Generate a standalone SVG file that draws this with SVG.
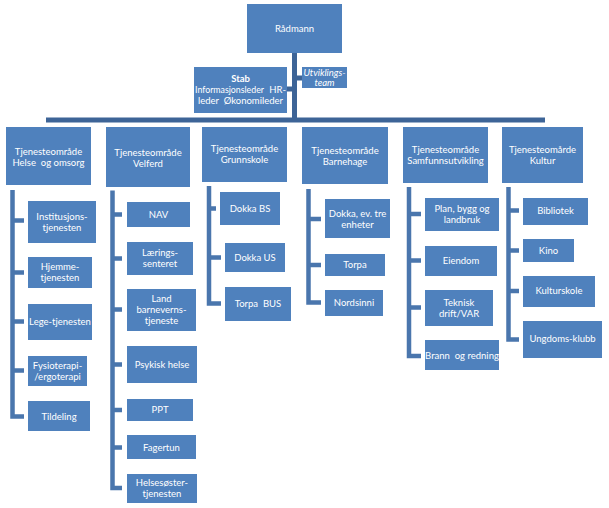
<svg xmlns="http://www.w3.org/2000/svg" width="609" height="508" viewBox="0 0 609 508">
<style>
.b{fill:#4f81bd}
.t{fill:#ffffff;font-family:Lato,"Open Sans","Liberation Sans",sans-serif;font-size:9.5px;text-anchor:middle;white-space:pre}
.c{fill:none;stroke:#4a76ad;stroke-width:4.5}
.m{fill:none;stroke:#3d6497;stroke-width:5}
</style>
<rect width="609" height="508" fill="#ffffff"/>
<g id="connectors">
<path class="m" d="M294.5,53 V120 M46,120 H545"/>
<path class="m" stroke-width="3" d="M297,78 H302 M287,89 H292"/>
<path class="c" d="M12.5,190 V416.5 H24 M12.5,220.5 H24 M12.5,272.5 H24 M12.5,321.5 H24 M12.5,370.5 H24"/>
<path class="c" d="M112.5,190.5 V488 H122 M112.5,214.5 H122 M112.5,258.5 H122 M112.5,309.5 H122 M112.5,364.5 H122 M112.5,410 H122 M112.5,447.5 H122"/>
<path class="c" d="M209,186 V303.5 H221 M209,208.5 H216 M209,257.5 H221"/>
<path class="c" d="M308.5,189 V302.5 H321 M308.5,219 H321 M308.5,265 H321"/>
<path class="c" d="M409,187 V356 H421 M409,214 H421 M409,260.5 H421 M409,307.5 H421"/>
<path class="c" d="M508.5,187 V339.5 H519 M508.5,210.5 H519 M508.5,250.5 H519 M508.5,291 H519"/>
</g>
<g id="radmann"><rect class="b" x="247" y="4" width="95" height="49"/><text class="t" x="294.5" y="32">Rådmann</text></g>
<g id="stab"><rect class="b" x="194" y="67" width="93" height="46"/>
<text class="t" x="240.5" y="82" font-weight="bold">Stab</text>
<text class="t" x="195" y="93" style="text-anchor:start" textLength="69" lengthAdjust="spacingAndGlyphs">Informasjonsleder</text>
<text class="t" x="286" y="93" style="text-anchor:end">HR-</text>
<text class="t" x="240.5" y="104">leder  Økonomileder</text></g>
<g id="utvikling"><rect class="b" x="302" y="67" width="45" height="21"/>
<text class="t" x="324.5" y="76" font-style="italic">Utviklings-</text>
<text class="t" x="324.5" y="86" font-style="italic">team</text></g>

<g id="helse"><rect class="b" x="6" y="127" width="85" height="58"/><text class="t" x="48.5" y="155">Tjenesteområde</text><text class="t" x="48.5" y="166">Helse  og omsorg</text></g>
<g id="velferd"><rect class="b" x="106" y="127" width="84" height="60"/><text class="t" x="148" y="156">Tjenesteområde</text><text class="t" x="148" y="167">Velferd</text></g>
<g id="grunnskole"><rect class="b" x="202" y="127" width="85" height="55"/><text class="t" x="244.5" y="152">Tjenesteområde</text><text class="t" x="244.5" y="163">Grunnskole</text></g>
<g id="barnehage"><rect class="b" x="302" y="127" width="86" height="57"/><text class="t" x="345" y="154">Tjenesteområde</text><text class="t" x="345" y="165">Barnehage</text></g>
<g id="samfunn"><rect class="b" x="403" y="127" width="85" height="56"/><text class="t" x="445.5" y="153">Tjenesteområde</text><text class="t" x="445.5" y="164">Samfunnsutvikling</text></g>
<g id="kultur"><rect class="b" x="502" y="127" width="81" height="56"/><text class="t" x="542.5" y="153">Tjenesteomårde</text><text class="t" x="542.5" y="164">Kultur</text></g>

<g id="institusjon"><rect class="b" x="28" y="201" width="68" height="42"/><text class="t" x="62" y="220">Institusjons-</text><text class="t" x="62" y="231">tjenesten</text></g>
<g id="hjemme"><rect class="b" x="28" y="257" width="64" height="31"/><text class="t" x="60" y="270">Hjemme-</text><text class="t" x="60" y="281">tjenesten</text></g>
<g id="lege"><rect class="b" x="28" y="304" width="64" height="36"/><text class="t" x="60" y="325">Lege-tjenesten</text></g>
<g id="fysio"><rect class="b" x="28" y="356" width="59" height="30"/><text class="t" x="57.5" y="369">Fysioterapi-</text><text class="t" x="57.5" y="380">/ergoterapi</text></g>
<g id="tildeling"><rect class="b" x="28" y="401" width="62" height="30"/><text class="t" x="59" y="420">Tildeling</text></g>

<g id="nav"><rect class="b" x="127" y="202" width="63" height="25"/><text class="t" x="158.5" y="218">NAV</text></g>
<g id="laering"><rect class="b" x="127" y="242" width="66" height="33"/><text class="t" x="160" y="256">Lærings-</text><text class="t" x="160" y="267">senteret</text></g>
<g id="barnevern"><rect class="b" x="127" y="289" width="69" height="42"/><text class="t" x="161.5" y="302">Land</text><text class="t" x="161.5" y="313">barneverns-</text><text class="t" x="161.5" y="324">tjeneste</text></g>
<g id="psykisk"><rect class="b" x="127" y="346" width="70" height="37"/><text class="t" x="162" y="368">Psykisk helse</text></g>
<g id="ppt"><rect class="b" x="127" y="399" width="66" height="22"/><text class="t" x="160" y="413">PPT</text></g>
<g id="fagertun"><rect class="b" x="127" y="435" width="69" height="24"/><text class="t" x="161.5" y="451">Fagertun</text></g>
<g id="helsesoster"><rect class="b" x="127" y="474" width="70" height="29"/><text class="t" x="162" y="486">Helsesøster-</text><text class="t" x="162" y="497">tjenesten</text></g>

<g id="dokkabs"><rect class="b" x="220" y="192" width="60" height="33"/><text class="t" x="250" y="212">Dokka BS</text></g>
<g id="dokkaus"><rect class="b" x="225" y="243" width="60" height="29"/><text class="t" x="255" y="261">Dokka US</text></g>
<g id="torpabus"><rect class="b" x="225" y="287" width="66" height="34"/><text class="t" x="258" y="307">Torpa  BUS</text></g>

<g id="dokkaev"><rect class="b" x="325" y="199" width="65" height="39"/><text class="t" x="357.5" y="217">Dokka, ev. tre</text><text class="t" x="357.5" y="228">enheter</text></g>
<g id="torpa"><rect class="b" x="325" y="254" width="60" height="22"/><text class="t" x="355" y="268">Torpa</text></g>
<g id="nordsinni"><rect class="b" x="325" y="290" width="58" height="26"/><text class="t" x="354" y="306">Nordsinni</text></g>

<g id="plan"><rect class="b" x="425" y="198" width="74" height="33"/><text class="t" x="462" y="212">Plan, bygg og</text><text class="t" x="462" y="223">landbruk</text></g>
<g id="eiendom"><rect class="b" x="425" y="246" width="72" height="30"/><text class="t" x="461" y="264">Eiendom</text></g>
<g id="teknisk"><rect class="b" x="425" y="290" width="68" height="36"/><text class="t" x="459" y="306">Teknisk</text><text class="t" x="459" y="317">drift/VAR</text></g>
<g id="brann"><rect class="b" x="425" y="340" width="74" height="30"/><text class="t" x="462" y="359">Brann  og redning</text></g>

<g id="bibliotek"><rect class="b" x="523" y="198" width="65" height="27"/><text class="t" x="555.5" y="214">Bibliotek</text></g>
<g id="kino"><rect class="b" x="523" y="239" width="51" height="23"/><text class="t" x="548.5" y="254">Kino</text></g>
<g id="kulturskole"><rect class="b" x="523" y="276" width="72" height="31"/><text class="t" x="559" y="294">Kulturskole</text></g>
<g id="ungdom"><rect class="b" x="523" y="321" width="79" height="37"/><text class="t" x="562.5" y="342">Ungdoms-klubb</text></g>
</svg>
